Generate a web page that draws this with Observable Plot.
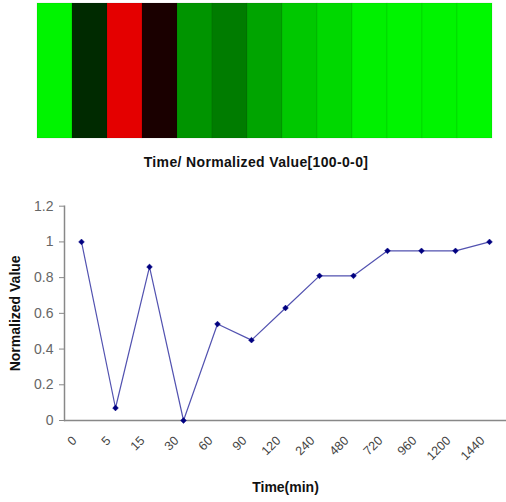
<!DOCTYPE html>
<html>
<head>
<meta charset="utf-8">
<script src="https://cdn.jsdelivr.net/npm/d3@7"></script>
<script src="https://cdn.jsdelivr.net/npm/@observablehq/plot@0.6"></script>
<style>
  html, body { margin: 0; padding: 0; background: #fff; }
  body { width: 506px; height: 502px; position: relative; overflow: hidden; font-family: "Liberation Sans", Arial, sans-serif; }
  #heat { position: absolute; left: 0; top: 0; }
  #htitle { position: absolute; left: 0; width: 512px; top: 154px; text-align: center; font-weight: bold; font-size: 14px; letter-spacing: 0.35px; color: #111; }
  #line { position: absolute; left: 0; top: 180px; }
</style>
</head>
<body>
<div id="heat"></div>
<div id="htitle">Time/ Normalized Value[100-0-0]</div>
<div id="line"></div>
<script>
const timeLabels = ["0", "5", "15", "30", "60", "90", "120", "240", "480", "720", "960", "1200", "1440"];
const normValues = [1, 0.07, 0.86, 0, 0.54, 0.45, 0.63, 0.81, 0.81, 0.95, 0.95, 0.95, 1];
const heatColors = ["#00f400", "#002a00", "#e40000", "#1a0000", "#009400", "#007c00", "#00a400", "#00c800", "#00d800", "#00f000", "#00f400", "#00f400", "#00f800"];
const yTicks = [0, 0.2, 0.4, 0.6, 0.8, 1, 1.2];

const heatData = timeLabels.map((t, i) => ({t, c: heatColors[i]}));
const lineData = timeLabels.map((t, i) => ({t, v: normValues[i]}));

const heat = Plot.plot({
  width: 506, height: 142,
  marginLeft: 36, marginRight: 14, marginTop: 3, marginBottom: 4,
  x: {domain: timeLabels, padding: 0, axis: null},
  color: {type: "identity"},
  marks: [
    Plot.cell(heatData, {x: "t", fill: "c", stroke: "#000", strokeOpacity: 0.08, strokeWidth: 1})
  ]
});
document.getElementById("heat").appendChild(heat);

const chart = Plot.plot({
  width: 506, height: 322,
  marginLeft: 64, marginRight: 0, marginTop: 25.7, marginBottom: 82,
  style: {fontFamily: "'Liberation Sans', Arial, sans-serif", background: "#fff"},
  x: {type: "point", domain: timeLabels, padding: 0.5},
  y: {domain: [0, 1.2]},
  marks: [
    Plot.axisY({ticks: yTicks, tickFormat: d => String(d), tickSize: 5, tickPadding: 6, fontSize: 14, color: "#666", stroke: "#888", label: null}),
    Plot.axisX({tickSize: 0, tickRotate: -45, tickPadding: 18, dx: -7, fontSize: 12.5, color: "#444", label: null}),
    Plot.frame({anchor: "left", stroke: "#888", strokeWidth: 1.5}),
    Plot.ruleY([0], {stroke: "#888", strokeWidth: 1.5}),
    Plot.line(lineData, {x: "t", y: "v", stroke: "#5252b0", strokeWidth: 1.2}),
    Plot.dot(lineData, {x: "t", y: "v", symbol: "diamond2", fill: "#000080", stroke: "#000080", strokeWidth: 0.5, r: 2.6}),
    Plot.text(["Normalized Value"], {frameAnchor: "left", textAnchor: "middle", lineAnchor: "middle", rotate: -90, dx: -49, fontWeight: "bold", fontSize: 14, fill: "#111"}),
    Plot.text(["Time(min)"], {frameAnchor: "bottom", textAnchor: "middle", lineAnchor: "middle", dy: 67, fontWeight: "bold", fontSize: 14, fill: "#111"})
  ]
});
document.getElementById("line").appendChild(chart);
</script>
</body>
</html>
